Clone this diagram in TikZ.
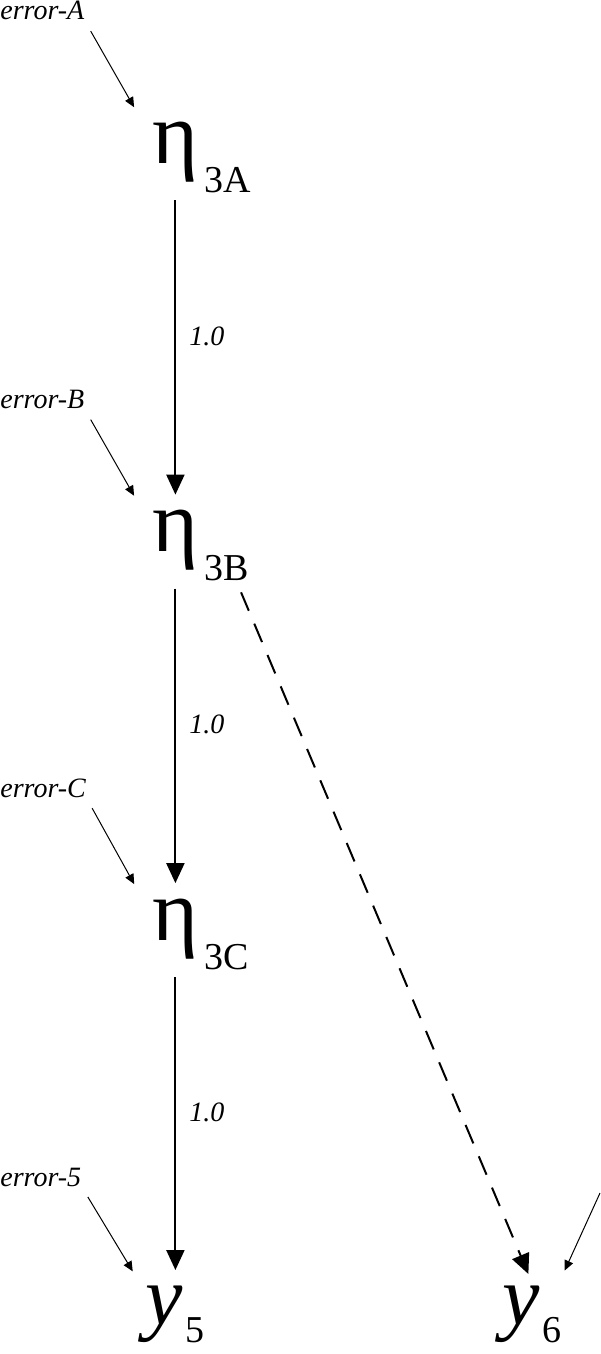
\documentclass[tikz,border=0pt]{standalone}
\usepackage{fontspec}
\setmainfont{Liberation Serif}
\usepackage{tikz}
\usetikzlibrary{arrows.meta,positioning}

\begin{document}
\begin{tikzpicture}[x=0.5pt,y=-0.5pt,
    latent/.style={inner sep=0pt,font=\fontsize{44}{48}\selectfont},
    obs/.style={inner sep=0pt,font=\fontsize{42}{46}\selectfont\itshape},
    sub/.style={inner sep=0pt,font=\fontsize{19}{21}\selectfont},
    errlabel/.style={inner sep=0pt,font=\fontsize{14}{16}\selectfont\itshape},
    weight/.style={inner sep=0pt,font=\fontsize{14}{16}\selectfont\itshape},
    mainarrow/.style={line width=1pt,-{Triangle[length=10pt,width=9pt]},shorten <=9pt,shorten >=7.5pt},
    errarrow/.style={line width=0.5pt,-{Triangle[length=5pt,width=4.5pt]},shorten <=6pt,shorten >=8pt},
    dasharrow/.style={line width=1pt,dash pattern=on 10pt off 7pt,-{Triangle[length=10pt,width=9pt]},shorten <=6pt,shorten >=6pt}]
    \useasboundingbox (0,0) rectangle (600,1354);

    \foreach \n [count=\i from 0] in {A,B,C} {
      \node [latent,anchor=base west] (eta\n) at (152,163+388.5*\i) {η};
      \node [sub,anchor=base west] (sub\n) at ([xshift=2.5pt,yshift=-14.5pt]eta\n.base east) {3\n};
      \node [errlabel,anchor=base west] (err\n) at (0,20+388.5*\i) {error-\n};
      \draw [errarrow] (err\n.south east) -- ([xshift=-5pt]eta\n.north west);
    }

    \node [errlabel,anchor=base west] (err5) at (0,1186) {error-5};
    \node [obs,anchor=base west] (y5) at (145,1324) {y};
    \node [sub,anchor=base west] (sub5) at ([xshift=1pt,yshift=-9pt]y5.base east) {5};
    \node [obs,anchor=base west] (y6) at (502,1324) {y};
    \node [sub,anchor=base west] (sub6) at ([xshift=1pt,yshift=-9pt]y6.base east) {6};
    \coordinate (err6) at (600,1193);

    \draw [mainarrow] (etaA) -- (etaB) node [weight,pos=0.47,right=6.5pt] {1.0};
    \draw [mainarrow] (etaB) -- (etaC) node [weight,pos=0.47,right=6.5pt] {1.0};
    \draw [mainarrow] (etaC) -- (etaC |- y5.north) node [weight,pos=0.47,right=6.5pt] {1.0};
    \draw [dasharrow] ([xshift=5pt]subB.south) -- ([xshift=6pt]y6.north);

    \draw [errarrow] (err5.south east) -- ([xshift=-2pt]y5.north west);
    \draw [errarrow,shorten <=0pt] (err6) -- ([xshift=9pt]y6.north east);
  \end{tikzpicture}
\end{document}
